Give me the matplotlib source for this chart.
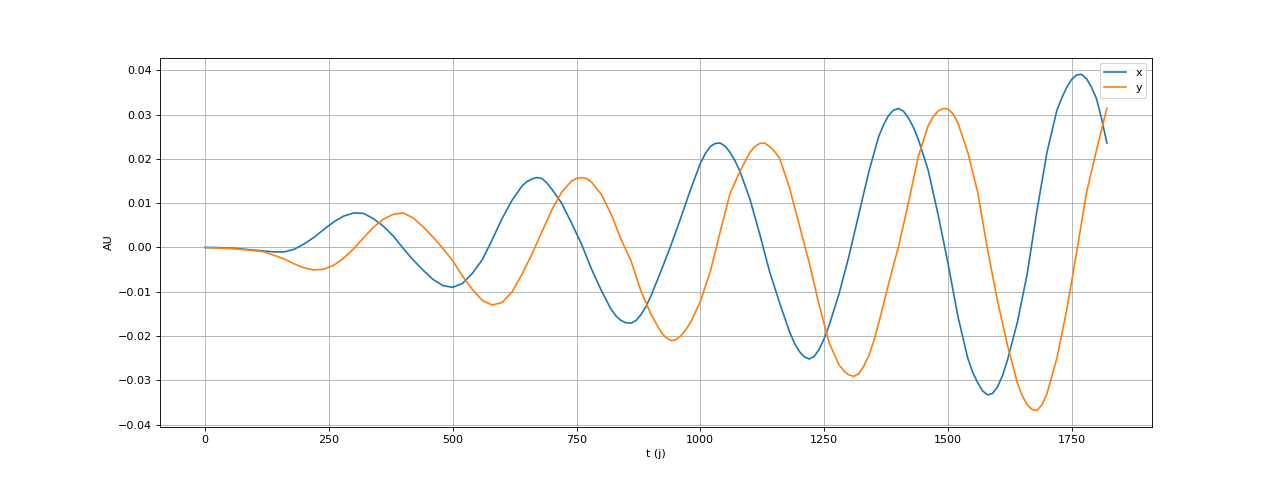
import matplotlib
matplotlib.use("Agg")
import matplotlib.pyplot as plt

# ---- series "x" (blue) ----
t_x = [0, 20, 40, 60, 80, 100, 120, 140, 160, 180,
       200, 220, 240, 260, 280, 300, 320, 340, 360, 380,
       400, 420, 440, 460, 480, 500, 520, 540, 560, 580,
       600, 620, 640, 650, 660, 670, 680, 690, 700, 720,
       740, 760, 780, 800, 820, 830, 840, 850, 860, 870,
       880, 890, 900, 920, 940, 960, 980, 1000, 1010, 1020,
       1030, 1040, 1050, 1060, 1070, 1080, 1100, 1120, 1140, 1160,
       1180, 1190, 1200, 1210, 1220, 1230, 1240, 1250, 1260, 1280,
       1300, 1320, 1340, 1360, 1370, 1380, 1390, 1400, 1410, 1420,
       1430, 1440, 1460, 1480, 1500, 1520, 1540, 1550, 1560, 1570,
       1580, 1590, 1600, 1610, 1620, 1640, 1660, 1680, 1700, 1720,
       1730, 1740, 1750, 1760, 1770, 1780, 1790, 1800, 1810, 1821]
x = [0.0000, 0.0000, -0.0001, -0.0002, -0.0004, -0.0006, -0.0008, -0.0010, -0.0010, -0.0004,
     0.0008, 0.0023, 0.0041, 0.0058, 0.0071, 0.0078, 0.0077, 0.0065, 0.0048, 0.0026,
     -0.0002, -0.0028, -0.0051, -0.0072, -0.0086, -0.0090, -0.0081, -0.0058, -0.0027, 0.0018,
     0.0066, 0.0107, 0.0139, 0.0149, 0.0155, 0.0158, 0.0156, 0.0146, 0.0132, 0.0100,
     0.0055, 0.0008, -0.0048, -0.0097, -0.0140, -0.0155, -0.0165, -0.0170, -0.0171, -0.0165,
     -0.0152, -0.0134, -0.0110, -0.0055, 0.0003, 0.0065, 0.0130, 0.0190, 0.0212, 0.0228,
     0.0235, 0.0236, 0.0229, 0.0215, 0.0196, 0.0172, 0.0110, 0.0030, -0.0055, -0.0125,
     -0.0190, -0.0216, -0.0235, -0.0247, -0.0252, -0.0246, -0.0230, -0.0206, -0.0176, -0.0105,
     -0.0020, 0.0075, 0.0170, 0.0250, 0.0277, 0.0298, 0.0310, 0.0314, 0.0308, 0.0293,
     0.0272, 0.0245, 0.0175, 0.0075, -0.0035, -0.0155, -0.0250, -0.0282, -0.0305, -0.0324,
     -0.0333, -0.0330, -0.0315, -0.0290, -0.0255, -0.0170, -0.0060, 0.0085, 0.0215, 0.0310,
     0.0338, 0.0362, 0.0380, 0.0390, 0.0391, 0.0381, 0.0362, 0.0336, 0.0292, 0.0236]

# ---- series "y" (orange) ----
t_y = [0, 20, 40, 60, 80, 100, 120, 140, 160, 180,
       200, 220, 240, 260, 280, 300, 320, 340, 360, 380,
       400, 420, 440, 460, 480, 500, 520, 540, 560, 580,
       600, 620, 640, 660, 680, 700, 720, 740, 750, 760,
       770, 780, 800, 820, 840, 860, 880, 900, 920, 930,
       940, 950, 960, 970, 980, 1000, 1020, 1040, 1060, 1080,
       1100, 1110, 1120, 1130, 1140, 1150, 1160, 1180, 1200, 1220,
       1240, 1260, 1280, 1290, 1300, 1310, 1320, 1330, 1340, 1350,
       1360, 1370, 1380, 1390, 1400, 1420, 1440, 1460, 1470, 1480,
       1490, 1500, 1510, 1520, 1540, 1560, 1580, 1600, 1620, 1640,
       1650, 1660, 1670, 1680, 1690, 1700, 1720, 1740, 1760, 1780,
       1800, 1821]
y = [0.0000, -0.0001, -0.0002, -0.0003, -0.0005, -0.0007, -0.0010, -0.0018, -0.0026, -0.0037,
     -0.0046, -0.0051, -0.0049, -0.0040, -0.0024, -0.0003, 0.0022, 0.0046, 0.0064, 0.0075,
     0.0078, 0.0067, 0.0047, 0.0024, -0.0002, -0.0030, -0.0065, -0.0095, -0.0120, -0.0130,
     -0.0124, -0.0100, -0.0060, -0.0015, 0.0035, 0.0085, 0.0125, 0.0150, 0.0156, 0.0158,
     0.0156, 0.0148, 0.0120, 0.0075, 0.0018, -0.0030, -0.0098, -0.0150, -0.0190, -0.0203,
     -0.0210, -0.0209, -0.0200, -0.0187, -0.0170, -0.0122, -0.0055, 0.0035, 0.0122, 0.0172,
     0.0215, 0.0228, 0.0235, 0.0236, 0.0228, 0.0217, 0.0202, 0.0135, 0.0050, -0.0035,
     -0.0130, -0.0215, -0.0265, -0.0279, -0.0288, -0.0291, -0.0285, -0.0268, -0.0245, -0.0212,
     -0.0172, -0.0128, -0.0083, -0.0040, 0.0001, 0.0100, 0.0205, 0.0275, 0.0295, 0.0308,
     0.0314, 0.0313, 0.0302, 0.0282, 0.0215, 0.0125, -0.0005, -0.0120, -0.0220, -0.0305,
     -0.0335, -0.0355, -0.0366, -0.0368, -0.0355, -0.0330, -0.0250, -0.0140, -0.0010, 0.0125,
     0.0220, 0.0315]

labels = ["x", "y"]

fig, ax = plt.subplots(figsize=(16, 6), dpi=80)
ax.plot(t_x, x, label=labels[0])
ax.plot(t_y, y, label=labels[1])
ax.set_xlabel("t (j)")
ax.set_ylabel("AU")
ax.grid(True)
ax.legend(loc="upper right")
fig.savefig("out.png", dpi=80)
